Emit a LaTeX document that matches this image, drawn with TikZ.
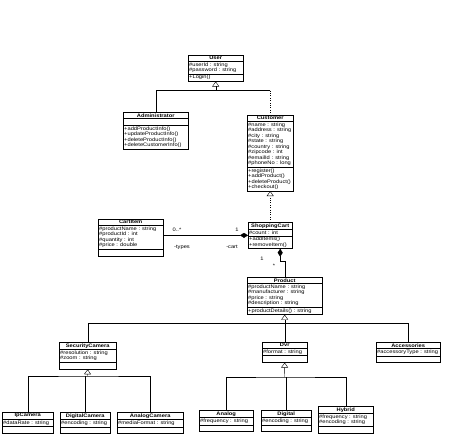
\documentclass[tikz,border=0pt]{standalone}
\usepackage{fontspec}
\usepackage{tikz}
\usetikzlibrary{shapes.multipart,arrows.meta}
\newfontfamily\umlsans[FakeStretch=1.15]{Liberation Sans}
\newcommand{\umlfont}{\umlsans\fontsize{5}{5.5}\selectfont}
\tikzset{
    umlclass/.style={draw, rectangle split, rectangle split parts=3,
        rectangle split part align={center,left,left},
        rectangle split empty part height=2pt, align=left,
        anchor=north west, font=\umlfont, inner xsep=1pt, inner ysep=1.1pt},
    gen/.style={-{Triangle[open,length=5pt,width=7pt]}},
    comp/.style={-{Diamond[length=8pt,width=5pt]}},
    mult/.style={font=\umlfont, inner sep=0pt},
}

\begin{document}
\begin{tikzpicture}[x=1pt,y=-1pt]
    \useasboundingbox (0,0) rectangle (474,438);
    \node[umlclass, minimum width=55] (user) at (188,55) {\textbf{User} \nodepart{second} \#userId : string\\\#password : string \nodepart{third} +Login()};
    \node[umlclass, minimum width=65] (admin) at (123,112) {\textbf{Administrator} \nodepart{second} \nodepart{third} +addProductInfo()\\+updateProductInfo()\\+deleteProductInfo()\\+deleteCustomerInfo()};
    \node[umlclass, minimum width=46] (cust) at (247,115) {\textbf{Customer} \nodepart{second} \#name : string\\\#address : string\\\#city : string\\\#state : string\\\#country : string\\\#zipcode : int\\\#emailId : string\\\#phoneNo : long \nodepart{third} +register()\\+addProduct()\\+deleteProduct()\\+checkout()};
    \node[umlclass, minimum width=65] (item) at (98,219) {\textbf{CartItem} \nodepart{second} \#productName : string\\\#productId : int\\\#quantity : int\\\#price : double \nodepart{third}};
    \node[umlclass, minimum width=44] (cart) at (248,222) {\textbf{ShoppingCart} \nodepart{second} \#count : int \nodepart{third} +addItems()\\+removeItem()};
    \node[umlclass, minimum width=75] (prod) at (247,277) {\textbf{Product} \nodepart{second} \#productName : string\\\#manufacturer : string\\\#price : string\\\#description : string \nodepart{third} +productDetails() : string};
    \node[umlclass, minimum width=57] (secam) at (59,342) {\textbf{SecurityCamera} \nodepart{second} \#resolution : string\\\#zoom : string \nodepart{third}};
    \node[umlclass, minimum width=45] (dvr) at (262,342) {\textbf{Dvr} \nodepart{second} \#format : string \nodepart{third}};
    \node[umlclass, minimum width=64] (acc) at (376,342) {\textbf{Accessories} \nodepart{second} \#accessoryType : string \nodepart{third}};
    \node[umlclass, minimum width=51] (ipcam) at (2,412) {\textbf{IpCamera} \nodepart{second} \#dataRate : string \nodepart{third}};
    \node[umlclass, minimum width=50] (digcam) at (60,412) {\textbf{DigitalCamera} \nodepart{second} \#encoding : string \nodepart{third}};
    \node[umlclass, minimum width=66] (angcam) at (117,412) {\textbf{AnalogCamera} \nodepart{second} \#mediaFormat : string \nodepart{third}};
    \node[umlclass, minimum width=54] (analog) at (199,410) {\textbf{Analog} \nodepart{second} \#frequency : string \nodepart{third}};
    \node[umlclass, minimum width=50] (digital) at (261,410) {\textbf{Digital} \nodepart{second} \#encoding : string \nodepart{third}};
    \node[umlclass, minimum width=55] (hybrid) at (318,406) {\textbf{Hybrid} \nodepart{second} \#frequency : string\\\#encoding : string \nodepart{third}};

    \path (user.south) ++(0,9) coordinate (userbar);
    \draw[gen] (userbar) -- (user.south);
    \draw (admin.north) |- (userbar) -- (userbar -| cust.north);
    \draw[dotted] (cust.north) -- (userbar -| cust.north);
    \draw[gen, dotted] (cart.north -| cust.south) -- (cust.south);

    \draw[comp] (item.east |- cart.west) -- (cart.west);
    \node[mult] (m1) at (177,230) {0..*};
    \node[mult] (m2) at (237,230) {1};
    \node[mult] (r1) at (182,247) {-types};
    \node[mult] (r2) at (232,247) {-cart};

    \path (cart.south) ++(10,0) coordinate (cartdia);
    \draw[comp] (prod.north) -- ++(0,-16) -| (cartdia);
    \node[mult] (m3) at (262,259) {1};
    \node[mult] (m4) at (274,266) {*};

    \path (prod.south) ++(0,9) coordinate (prodbar);
    \draw[gen] (prodbar) -- (prod.south);
    \draw (secam.north) |- (prodbar) -| (acc.north);
    \draw (dvr.north) -- (dvr.north |- prodbar);

    \coordinate (secbar) at (87.5,376);
    \draw[gen] (secbar) -- (secam.south);
    \draw (ipcam.north) |- (secbar) -| (angcam.north);
    \draw (digcam.north) -- (digcam.north |- secbar);

    \coordinate (dvrbar) at (284.5,377);
    \draw[gen] (dvrbar) -- (dvr.south);
    \draw (analog.north) |- (dvrbar) -| (hybrid.north);
    \draw (digital.north) -- (digital.north |- dvrbar);
  \end{tikzpicture}
\end{document}
